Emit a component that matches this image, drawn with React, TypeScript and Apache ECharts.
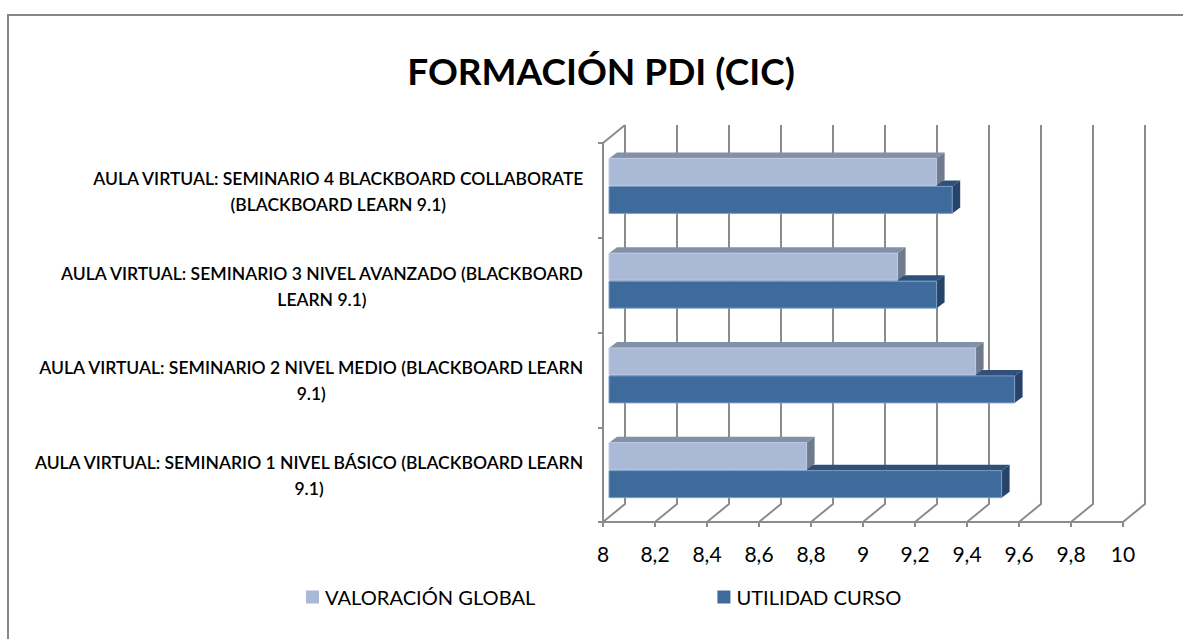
import React, { useEffect, useRef } from "react";
import * as echarts from "echarts";

const categories = [
  "AULA VIRTUAL: SEMINARIO 1 NIVEL BÁSICO (BLACKBOARD LEARN\n9.1)",
  "AULA VIRTUAL: SEMINARIO 2 NIVEL MEDIO (BLACKBOARD LEARN\n9.1)",
  "AULA VIRTUAL: SEMINARIO 3 NIVEL AVANZADO (BLACKBOARD\nLEARN 9.1)",
  "AULA VIRTUAL: SEMINARIO 4 BLACKBOARD COLLABORATE\n(BLACKBOARD LEARN 9.1)",
];
const valoracionGlobal = [8.76, 9.41, 9.11, 9.26];
const utilidadCurso = [9.51, 9.56, 9.26, 9.32];
const xTicks = [8, 8.2, 8.4, 8.6, 8.8, 9, 9.2, 9.4, 9.6, 9.8, 10];

const FONT = "Lato, 'Noto Sans', sans-serif";
const GRID_COLOR = "#8c8c8c";
const WALL_DX = 22;
const WALL_DY = 18;
const BAR_SHIFT = 6;
const BAR_H = 27;
const BAR_DX = 8;
const BAR_DY = 6;

function barRenderer(bandOffset: number, front: string, top: string, side: string, edge: string) {
  return (_p: any, api: any) => {
    const start = api.coord([8, api.value(1)]);
    const end = api.coord([api.value(0), api.value(1)]);
    const x0 = start[0] + BAR_SHIFT;
    const x1 = end[0] + BAR_SHIFT;
    const y0 = start[1] + bandOffset;
    const y1 = y0 + BAR_H;
    return {
      type: "group",
      children: [
        {
          type: "polygon",
          shape: { points: [[x0, y0], [x0 + BAR_DX, y0 - BAR_DY], [x1 + BAR_DX, y0 - BAR_DY], [x1, y0]] },
          style: { fill: top },
        },
        {
          type: "polygon",
          shape: { points: [[x1, y0], [x1 + BAR_DX, y0 - BAR_DY], [x1 + BAR_DX, y1 - BAR_DY], [x1, y1]] },
          style: { fill: side },
        },
        {
          type: "rect",
          shape: { x: x0, y: y0, width: x1 - x0, height: BAR_H },
          style: { fill: front, stroke: edge, lineWidth: 1 },
        },
      ],
    };
  };
}

function wallRenderer(params: any, api: any) {
  const sys = params.coordSys;
  const bottom = sys.y + sys.height;
  const x = api.coord([api.value(0), 0])[0];
  const style = { stroke: GRID_COLOR, fill: "none", lineWidth: 2 };
  const children: any[] = [
    {
      type: "polyline",
      shape: { points: [[x, bottom], [x + WALL_DX, bottom - WALL_DY], [x + WALL_DX, sys.y - WALL_DY]] },
      style,
    },
  ];
  if (params.dataIndex === 0) {
    children.push({
      type: "line",
      shape: { x1: x, y1: sys.y, x2: x + WALL_DX, y2: sys.y - WALL_DY },
      style,
    });
  }
  return { type: "group", children };
}

export default function App() {
  const ref = useRef<HTMLDivElement>(null);
  useEffect(() => {
    const chart = echarts.init(ref.current!, undefined, { renderer: "svg" });
    chart.setOption({
      animation: false,
      backgroundColor: "#ffffff",
      title: {
        text: "FORMACIÓN PDI (CIC)",
        left: 596,
        top: 47,
        textAlign: "center",
        textStyle: { fontFamily: FONT, fontSize: 37, fontWeight: "bold", color: "#000000" },
      },
      legend: {
        left: 301,
        top: 582,
        data: ["VALORACIÓN GLOBAL", "UTILIDAD CURSO"],
        icon: "rect",
        itemWidth: 13,
        itemHeight: 13,
        itemGap: 182,
        textStyle: { fontFamily: FONT, fontSize: 20.1, color: "#000000", padding: [0, 0, 0, 1] },
      },
      grid: { left: 603, right: 60, top: 143, bottom: 117 },
      xAxis: {
        type: "value",
        min: 8,
        max: 10,
        interval: 0.2,
        splitLine: { show: false },
        axisLine: { show: true, lineStyle: { color: GRID_COLOR, width: 2 } },
        axisTick: { show: true, length: 5, lineStyle: { color: GRID_COLOR, width: 2 } },
        axisLabel: {
          margin: 21,
          fontFamily: FONT,
          fontSize: 21,
          color: "#000000",
          formatter: (v: number) => String(Math.round(v * 10) / 10).replace(".", ","),
          showMinLabel: true,
          showMaxLabel: true,
        },
      },
      yAxis: {
        type: "category",
        data: categories,
        axisLine: { show: true, onZero: false, lineStyle: { color: GRID_COLOR, width: 2 } },
        axisTick: { show: true, length: 5, lineStyle: { color: GRID_COLOR, width: 2 } },
        axisLabel: {
          margin: 19,
          align: "right",
          interval: 0,
          padding: [2, 0, 0, 0],
          formatter: (s: string) => s.split("\n").map((l) => `{c|${l}}`).join("\n"),
          rich: {
            c: {
              fontFamily: FONT,
              fontSize: 17.5,
              fontWeight: 600,
              color: "#000000",
              lineHeight: 26,
              align: "center",
            },
          },
        },
      },
      series: [
        {
          type: "custom",
          name: "walls",
          data: xTicks.map((t) => [t, 0]),
          renderItem: wallRenderer,
          clip: false,
          silent: true,
          z: 1,
        },
        {
          type: "custom",
          name: "UTILIDAD CURSO",
          data: utilidadCurso.map((v, i) => [v, i]),
          itemStyle: { color: "#3F6A9C" },
          renderItem: barRenderer(-4, "#3F6A9C", "#2F507B", "#26436A", "#7C9CC4"),
          clip: false,
          z: 3,
        },
        {
          type: "custom",
          name: "VALORACIÓN GLOBAL",
          data: valoracionGlobal.map((v, i) => [v, i]),
          itemStyle: { color: "#A9B9D6" },
          renderItem: barRenderer(-32, "#A9B9D6", "#8290A8", "#6E7A8E", "#BFCBE2"),
          clip: false,
          z: 4,
        },
      ],
      graphic: [
        { type: "line", shape: { x1: 8, y1: 15, x2: 1183, y2: 15 }, style: { stroke: "#868686", lineWidth: 2 } },
        { type: "line", shape: { x1: 8, y1: 14, x2: 8, y2: 639 }, style: { stroke: "#868686", lineWidth: 2 } },
      ],
    });
    return () => chart.dispose();
  }, []);
  return <div ref={ref} style={{ position: "fixed", left: 0, top: 0, width: 1183, height: 639 }} />;
}
